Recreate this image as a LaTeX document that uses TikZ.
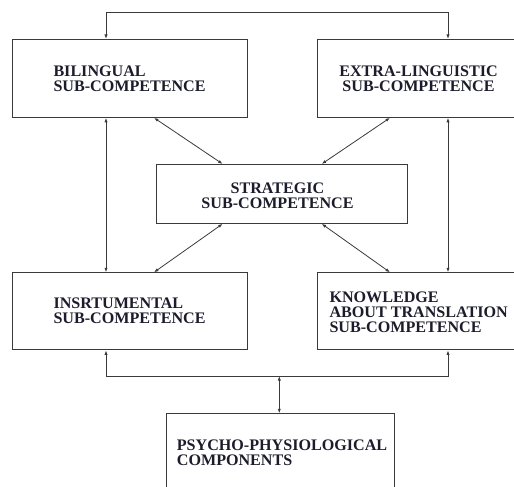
\documentclass[tikz,border=0pt]{standalone}
\usepackage{fontspec}
\setmainfont{Liberation Serif}
\usetikzlibrary{arrows.meta}
\definecolor{linec}{HTML}{3A3A3A}
\definecolor{textc}{HTML}{1C1C2C}
\tikzset{
  box/.style={draw=linec, line width=1.1pt, inner sep=0pt, anchor=north west},
  lbl/.style={inner sep=0pt, text=textc, font=\fontsize{16.1}{14.9}\selectfont\bfseries},
  conn/.style={draw=linec, line width=0.8pt, {Latex[length=4.5pt,width=3.2pt]}-{Latex[length=4.5pt,width=3.2pt]}}
}
\begin{document}
\begin{tikzpicture}[x=1pt,y=-1pt]
\useasboundingbox (0,0) rectangle (514,487);
\clip (0,0) rectangle (514,487);
\fill[white] (0,0) rectangle (514,487);
% boxes
\node[box, minimum width=235.3pt, minimum height=77.7pt] (bil) at (11.7,39) {};
\node[box, minimum width=213.3pt, minimum height=77.7pt] (ext) at (316.7,39) {};
\node[box, minimum width=251pt, minimum height=58.7pt] (str) at (156,164) {};
\node[box, minimum width=235.3pt, minimum height=77pt] (ins) at (11.7,272.3) {};
\node[box, minimum width=213.3pt, minimum height=77pt] (kno) at (316.7,272.3) {};
\node[box, minimum width=228.6pt, minimum height=106.7pt] (psy) at (165.7,413.3) {};
% labels
\node[lbl, align=left, anchor=north west] (tbil) at (53.3,65.5) {BILINGUAL\\SUB-COMPETENCE};
\node[lbl, align=center, anchor=north] (text) at (418.5,65.5) {EXTRA-LINGUISTIC\\SUB-COMPETENCE};
\node[lbl, align=center, anchor=north] (tstr) at (277.5,182.5) {STRATEGIC\\SUB-COMPETENCE};
\node[lbl, align=left, anchor=north west] (tins) at (53.3,298) {INSRTUMENTAL\\SUB-COMPETENCE};
\node[lbl, align=left, anchor=north west] (tkno) at (329.3,291.5) {KNOWLEDGE\\ABOUT TRANSLATION\\SUB-COMPETENCE};
\node[lbl, align=left, anchor=north west] (tpsy) at (176.7,439.8) {PSYCHO-PHYSIOLOGICAL\\COMPONENTS};
% helper coordinates
\coordinate (tl) at (106,12.7);
\coordinate (tr) at (448,12.7);
\coordinate (bl) at (106,376);
\coordinate (br) at (448,376);
\coordinate (bm) at (279.3,376);
\coordinate (xa) at (154,0);
\coordinate (xb) at (222.7,0);
\coordinate (xc) at (321.7,0);
\coordinate (xd) at (390,0);
% connectors
\draw[conn] (bil.north -| tl) -- (tl) -- (tr) -- (ext.north -| tr);
\draw[conn] (bil.south -| tl) -- (ins.north -| tl);
\draw[conn] (ext.south -| tr) -- (kno.north -| tr);
\draw[conn] (bil.south -| xa) -- (str.north -| xb);
\draw[conn] (ext.south -| xd) -- (str.north -| xc);
\draw[conn] (str.south -| xb) -- (ins.north -| xa);
\draw[conn] (str.south -| xc) -- (kno.north -| xd);
\draw[conn] (ins.south -| bl) -- (bl) -- (br) -- (kno.south -| br);
\draw[conn] (bm) -- (psy.north -| bm);
\end{tikzpicture}
\end{document}
